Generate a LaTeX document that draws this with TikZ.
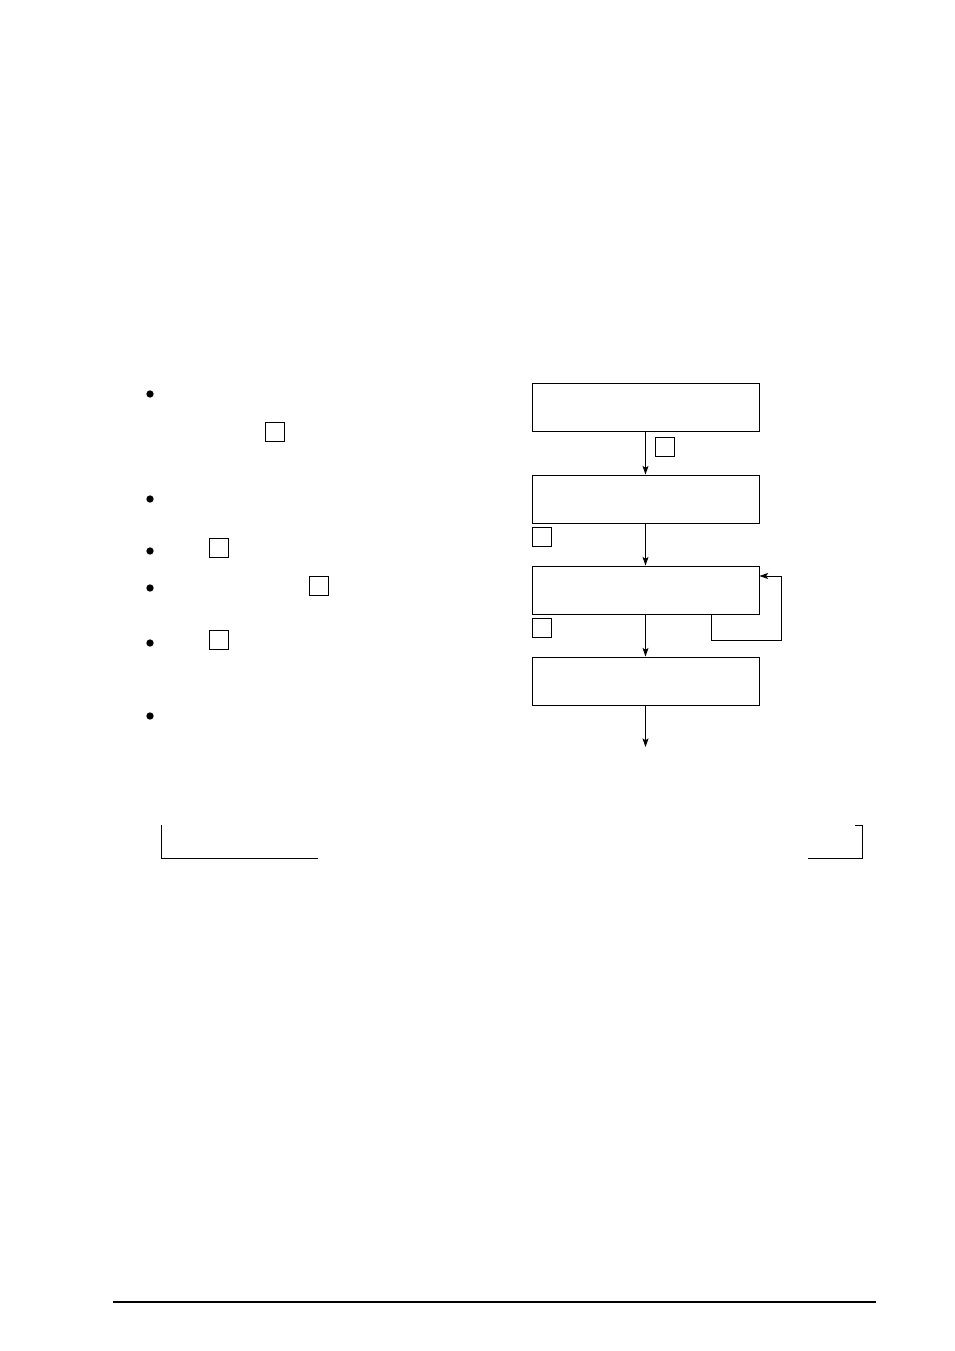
\documentclass[tikz,border=0pt]{standalone}
\usepackage{tikz}
\usetikzlibrary{shapes}
\usetikzlibrary{arrows.meta}
\tikzstyle{arrow}=[-{Stealth[length=6.5pt,width=4.5pt,inset=1.5pt]}]
\tikzset{every picture/.style={
    line width=0.7pt
  },
  stepbox/.style={rectangle, draw, minimum width=170.25pt, minimum height=36pt, inner sep=0pt},
  markbox/.style={rectangle, draw, minimum size=14.25pt, inner sep=0pt},
  dot/.style={circle, fill, minimum size=5.5pt, inner sep=0pt}
}
\begin{document}
\begin{tikzpicture}[x=0.75pt, y=-0.75pt]
      \useasboundingbox (0,0) rectangle (954,1351);
      % flow chart
      \node[stepbox] at (645.5,407) (first) {};
      \node[stepbox] at (645.5,499) (second) {};
      \node[stepbox] at (645.5,590) (third) {};
      \node[stepbox] at (645.5,681) (fourth) {};
      \coordinate (out) at (645.5,747);
      \draw[arrow] (first) -- (second);
      \draw[arrow] (second) -- (third);
      \draw[arrow] (third) -- (fourth);
      \draw[arrow] (fourth) -- (out);
      \node[markbox] at (664.5,446.5) (markA) {};
      \node[markbox] at (541.5,536.5) (markB) {};
      \node[markbox] at (541.5,627.5) (markC) {};
      % loop back to the third step
      \coordinate (loopx) at (711,640);
      \coordinate (loopr) at (781,576);
      \draw[arrow] (third.south -| loopx) |- (loopx -| loopr) -- (loopr) -- (loopr -| third.east);
      % bullet list
      \foreach \y [count=\i] in {394,499,551,588,643,716}
        \node[dot] at (150,\y) (bullet\i) {};
      \node[markbox] at (274.5,431.5) (markD) {};
      \node[markbox] at (218.5,547.5) (markE) {};
      \node[markbox] at (318.5,585.5) (markF) {};
      \node[markbox] at (218.5,639.5) (markG) {};
      % brackets
      \draw (161,825) -- (161,858) -- (318,858);
      \draw (808,858) -- (862,858) -- (862,825) -- (855,825);
      % footer rule
      \draw[line width=0.9pt] (113,1302) -- (876,1302);
    \end{tikzpicture}
\end{document}
